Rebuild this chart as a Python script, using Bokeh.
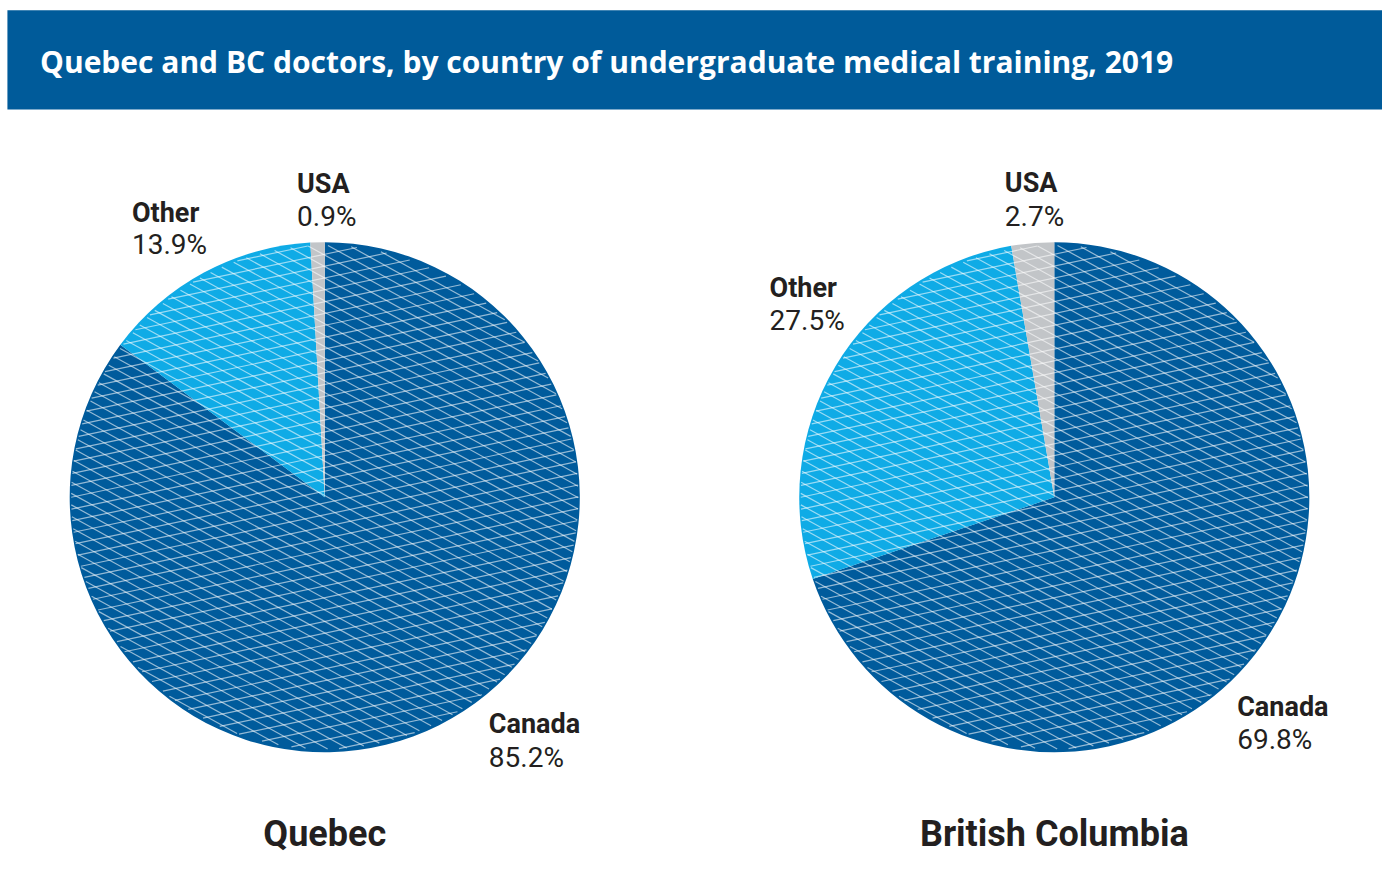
import numpy as np
from bokeh.plotting import figure
from bokeh.models import Range1d
from bokeh.embed import file_html
from bokeh.resources import INLINE
from bokeh.core.properties import value

# ---------------- data ----------------
title = "Quebec and BC doctors, by country of undergraduate medical training, 2019"
provinces = ["Quebec", "British Columbia"]
categories = ["Canada", "Other", "USA"]
quebec_pct = [85.2, 13.9, 0.9]
bc_pct = [69.8, 27.5, 2.7]
series = [quebec_pct, bc_pct]

# ---------------- style / layout ----------------
W, H = 1382, 857          # figure size (fits the window with the 8px margin)
RW, RH = 1398, 873        # reference-picture coordinate space
colors = ["#005b9c", "#0fabe6", "#c2c5c8"]
banner_color = "#005b9a"
text_color = "#231f20"

def X(px):
    return px

def Y(py):
    return RH - py

centers = [(328, 506), (1066, 506)]
radius = 258
# label anchors (reference pixels): per province, per category: (x, y of name, y of value)
label_pos = [
    [(494, 737, 771), (133, 216, 249), (300, 187, 220)],
    [(1251, 720, 753), (778, 293, 326), (1016, 186, 220)],
]
title_pos_y = 849

p = figure(width=W, height=H, x_range=Range1d(0, RW), y_range=Range1d(0, RH),
           output_backend="svg", toolbar_location=None, min_border=0)
p.axis.visible = False
p.grid.visible = False
p.outline_line_color = None
p.background_fill_color = "white"
p.border_fill_color = "white"

# banner
p.quad(left=X(7), right=RW + 2, top=Y(10), bottom=Y(111),
       fill_color=banner_color, line_color=None)
p.text(x=[X(40)], y=[Y(62)], text=[title], text_color="white",
       text_font=value("Open Sans"), text_font_style="bold",
       text_font_size="30px", text_baseline="middle", text_align="left")


def hatch_lines(cx, cy, r, ang_deg, spacing, phase=0.0):
    t = np.radians(ang_deg)
    d = np.array([np.cos(t), np.sin(t)])
    n = np.array([-np.sin(t), np.cos(t)])
    c = np.array([cx, cy])
    xs, ys = [], []
    k = -r + phase
    while k < r:
        h = np.sqrt(max(r * r - k * k, 0))
        a = c + k * n - h * d
        b = c + k * n + h * d
        xs.append([a[0], b[0]])
        ys.append([a[1], b[1]])
        k += spacing
    return xs, ys


for i, pct in enumerate(series):
    cx, cy = X(centers[i][0]), Y(centers[i][1])
    vals = np.array(pct, dtype=float)
    cum = np.concatenate([[0], np.cumsum(vals)])
    starts = 90 - cum[:-1] * 3.6
    ends = 90 - cum[1:] * 3.6
    p.wedge(x=cx, y=cy, radius=radius, start_angle=starts, end_angle=ends,
            direction="clock", start_angle_units="deg", end_angle_units="deg",
            fill_color=colors, line_color=None)
    # crosshatch overlay
    for ang, sp in [(12, 11.8), (-29, 10.2)]:
        xs, ys = hatch_lines(cx, cy, radius - 1.5, ang, sp, phase=3.0)
        p.multi_line(xs=xs, ys=ys, line_color="white", line_alpha=0.58,
                     line_width=1.2)
    # labels
    for j, cat in enumerate(categories):
        lx, ly1, ly2 = label_pos[i][j]
        p.text(x=[X(lx)], y=[Y(ly1)], text=[cat], text_color=text_color,
               text_font=value("Roboto"), text_font_style="bold",
               text_font_size="27px", text_baseline="middle", text_align="left")
        p.text(x=[X(lx)], y=[Y(ly2)], text=[f"{pct[j]:.1f}%"], text_color=text_color,
               text_font=value("Roboto"), text_font_size="28px",
               text_baseline="middle", text_align="left")
    p.text(x=[cx], y=[Y(title_pos_y)], text=[provinces[i]], text_color=text_color,
           text_font=value("Roboto"), text_font_style="bold",
           text_font_size="36px", text_baseline="middle", text_align="center")

open("out.html", "w").write(file_html(p, INLINE))
